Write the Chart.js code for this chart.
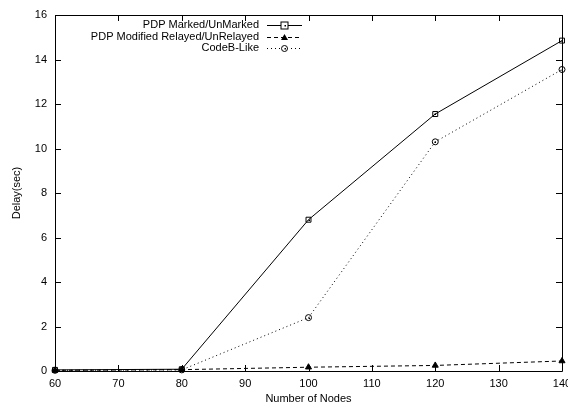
<!DOCTYPE html>
<html>
<head>
<meta charset="utf-8">
<script src="https://cdn.jsdelivr.net/npm/chart.js@4"></script>
<style>
  html, body { margin: 0; padding: 0; background: #fff; }
  #wrap { width: 568px; height: 406px; }
</style>
</head>
<body>
<div id="wrap"><canvas id="c" width="568" height="406"></canvas></div>
<script>
const nodes = [60, 80, 100, 120, 140];
const pdpMarked = [0.05, 0.08, 6.8, 11.55, 14.85];
const pdpModified = [0.03, 0.06, 0.17, 0.25, 0.45];
const codeB = [0.03, 0.05, 2.4, 10.3, 13.55];
const seriesNames = ['PDP Marked/UnMarked', 'PDP Modified Relayed/UnRelayed', 'CodeB-Like'];
const xTicks = [60, 70, 80, 90, 100, 110, 120, 130, 140];
const yTicks = [0, 2, 4, 6, 8, 10, 12, 14, 16];

const FONT = 'Liberation Sans, Arial, Helvetica, sans-serif';

function pts(vals) { return nodes.map((x, i) => ({ x: x, y: vals[i] })); }

// gnuplot-like frame with inward ticks on all four sides
const framePlugin = {
  id: 'frame',
  afterDatasetsDraw(chart) {
    const { ctx, chartArea: a, scales } = chart;
    ctx.save();
    ctx.strokeStyle = '#000';
    ctx.lineWidth = 1;
    ctx.beginPath();
    ctx.rect(Math.round(a.left) + 0.5, Math.round(a.top) + 0.5,
             Math.round(a.right - a.left), Math.round(a.bottom - a.top));
    ctx.stroke();
    const tl = 6;
    ctx.beginPath();
    xTicks.forEach(v => {
      const px = Math.round(scales.x.getPixelForValue(v)) + 0.5;
      ctx.moveTo(px, a.bottom); ctx.lineTo(px, a.bottom - tl);
      ctx.moveTo(px, a.top); ctx.lineTo(px, a.top + tl);
    });
    yTicks.forEach(v => {
      const py = Math.round(scales.y.getPixelForValue(v)) + 0.5;
      ctx.moveTo(a.left, py); ctx.lineTo(a.left + tl, py);
      ctx.moveTo(a.right, py); ctx.lineTo(a.right - tl, py);
    });
    ctx.stroke();
    // centre dots of the gnuplot box / circle markers
    ctx.fillStyle = '#000';
    chart.data.datasets.forEach((ds, i) => {
      if (ds.pointStyle === 'triangle') return;
      chart.getDatasetMeta(i).data.forEach(p => {
        ctx.fillRect(Math.round(p.x) - 0.5, Math.round(p.y) - 0.5, 1.5, 1.5);
      });
    });
    ctx.restore();
  }
};

// gnuplot-like key: right-aligned text followed by line sample with marker
const keyPlugin = {
  id: 'gkey',
  afterDraw(chart) {
    const { ctx } = chart;
    ctx.save();
    ctx.font = '11px ' + FONT;
    ctx.textAlign = 'right';
    ctx.textBaseline = 'middle';
    const textRight = 259;
    const x0 = 267, x1 = 302;
    const y0 = 25, dy = 11.5;
    chart.data.datasets.forEach((ds, i) => {
      const y = y0 + i * dy;
      const cx = (x0 + x1) / 2, cy = Math.round(y) + 0.5, r = ds.pointRadius;
      ctx.fillStyle = '#000';
      ctx.fillText(ds.label, textRight, y);
      ctx.strokeStyle = ds.borderColor;
      ctx.lineWidth = ds.borderWidth;
      ctx.setLineDash(ds.borderDash || []);
      ctx.beginPath();
      ctx.moveTo(x0, cy); ctx.lineTo(x1, cy);
      ctx.stroke();
      ctx.setLineDash([]);
      ctx.strokeStyle = '#000';
      ctx.lineWidth = 1;
      ctx.beginPath();
      if (ds.pointStyle === 'triangle') {
        ctx.fillStyle = '#000';
        ctx.moveTo(cx, cy - r); ctx.lineTo(cx + r, cy + r * 0.7); ctx.lineTo(cx - r, cy + r * 0.7); ctx.closePath();
        ctx.fill();
      } else if (ds.pointStyle === 'rect') {
        ctx.fillStyle = '#fff';
        ctx.fillRect(cx - r, cy - r, 2 * r, 2 * r);
        ctx.strokeRect(cx - r, cy - r, 2 * r, 2 * r);
        ctx.fillStyle = '#000';
        ctx.fillRect(Math.round(cx) - 0.5, cy - 0.5, 1.5, 1.5);
      } else {
        ctx.fillStyle = '#fff';
        ctx.arc(cx, cy, r, 0, Math.PI * 2); ctx.fill(); ctx.stroke();
        ctx.fillStyle = '#000';
        ctx.fillRect(Math.round(cx) - 0.5, cy - 0.5, 1.5, 1.5);
      }
    });
    ctx.restore();
  }
};

new Chart(document.getElementById('c'), {
  type: 'line',
  data: {
    datasets: [
      {
        label: seriesNames[0], data: pts(pdpMarked),
        borderColor: '#000', borderWidth: 1, borderDash: [],
        pointStyle: 'rect', pointRadius: 3.5, pointBorderWidth: 1,
        pointBackgroundColor: 'rgba(255,255,255,0)', pointBorderColor: '#000',
        tension: 0, clip: false
      },
      {
        label: seriesNames[1], data: pts(pdpModified),
        borderColor: '#000', borderWidth: 1, borderDash: [4, 3],
        pointStyle: 'triangle', pointRadius: 3.5, pointBorderWidth: 1,
        pointBackgroundColor: '#000', pointBorderColor: '#000',
        tension: 0, clip: false
      },
      {
        label: seriesNames[2], data: pts(codeB),
        borderColor: '#000', borderWidth: 1, borderDash: [1, 3],
        pointStyle: 'circle', pointRadius: 3, pointBorderWidth: 1,
        pointBackgroundColor: 'rgba(255,255,255,0)', pointBorderColor: '#000',
        tension: 0, clip: false
      }
    ]
  },
  options: {
    responsive: false,
    animation: false,
    devicePixelRatio: 1,
    layout: { padding: { top: 15, right: 6, left: 0, bottom: 0 } },
    plugins: { legend: { display: false }, tooltip: { enabled: false } },
    scales: {
      x: {
        type: 'linear', min: 60, max: 140,
        afterBuildTicks: s => { s.ticks = xTicks.map(v => ({ value: v })); },
        grid: { display: false, drawTicks: false },
        border: { display: false },
        ticks: { color: '#000', font: { family: FONT, size: 11 }, padding: 6, maxRotation: 0 },
        title: { display: true, text: 'Number of Nodes', color: '#000', font: { family: FONT, size: 11 }, padding: { top: 1, bottom: 0 } },
        afterFit: s => { s.height = 35; s.paddingLeft = 0; s.paddingRight = 0; }
      },
      y: {
        type: 'linear', min: 0, max: 16,
        afterBuildTicks: s => { s.ticks = yTicks.map(v => ({ value: v })); },
        grid: { display: false, drawTicks: false },
        border: { display: false },
        ticks: { color: '#000', font: { family: FONT, size: 11 }, padding: 8 },
        title: { display: true, text: 'Delay(sec)', color: '#000', font: { family: FONT, size: 11 }, padding: { top: 10, bottom: 0 } },
        afterFit: s => { s.width = 55; s.paddingTop = 0; s.paddingBottom = 0; }
      }
    }
  },
  plugins: [framePlugin, keyPlugin]
});
</script>
</body>
</html>
